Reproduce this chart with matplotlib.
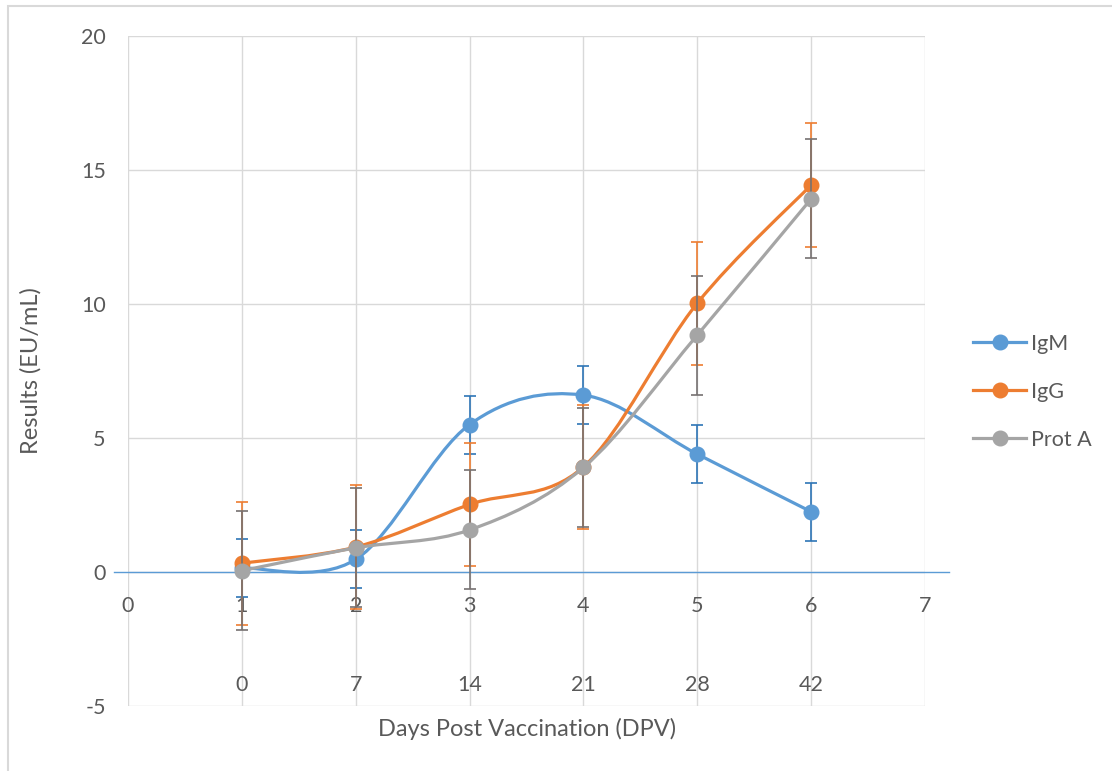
import numpy as np
import matplotlib
matplotlib.use("Agg")
import matplotlib.pyplot as plt
from matplotlib.path import Path
from matplotlib.patches import PathPatch, Rectangle
from matplotlib.lines import Line2D
from matplotlib.transforms import blended_transform_factory

# Données : moyennes et erreurs par point de prélèvement
points = [1, 2, 3, 4, 5, 6]
jours = ["0", "7", "14", "21", "28", "42"]

igm = [0.15, 0.47, 5.5, 6.6, 4.4, 2.25]
igg = [0.33, 0.93, 2.52, 3.92, 10.03, 14.44]
prot_a = [0.05, 0.9, 1.57, 3.9, 8.84, 13.92]

err_igm = [1.08, 1.08, 1.08, 1.08, 1.08, 1.08]
err_igg = [2.3, 2.3, 2.3, 2.3, 2.3, 2.3]
err_prot_a = [2.22, 2.22, 2.22, 2.22, 2.22, 2.22]

TEXTE = "#595959"
GRILLE = "#D9D9D9"
TAILLE = 15.5

plt.rcParams["font.family"] = ["Lato", "DejaVu Sans"]
plt.rcParams["axes.unicode_minus"] = False


def courbe_lissee(xs, ys):
    # courbe de Bézier passant par les points (lissage façon tableur)
    pts = np.column_stack([xs, ys]).astype(float)
    n = len(pts)
    verts = [pts[0]]
    codes = [Path.MOVETO]
    for i in range(n - 1):
        p0 = pts[max(i - 1, 0)]
        p1 = pts[i]
        p2 = pts[i + 1]
        p3 = pts[min(i + 2, n - 1)]
        verts += [p1 + (p2 - p0) / 6, p2 - (p3 - p1) / 6, p2]
        codes += [Path.CURVE4] * 3
    return Path(verts, codes)


fig = plt.figure(figsize=(11.12, 7.71), dpi=100)
ax = fig.add_axes([0.1151, 0.0843, 0.7167, 0.869])

ax.set_xlim(0, 7)
ax.set_ylim(-5, 20)
ax.set_xticks(range(8))
ax.set_yticks([-5, 0, 5, 10, 15, 20])
ax.grid(True, color=GRILLE, linewidth=1.0)
ax.set_axisbelow(True)
for s in ax.spines.values():
    s.set_visible(False)
ax.spines["bottom"].set_position(("data", 0))
ax.tick_params(axis="x", length=0, pad=17.5, labelsize=TAILLE, labelcolor=TEXTE)
ax.tick_params(axis="y", length=0, pad=16, labelsize=TAILLE, labelcolor=TEXTE)

# axe horizontal bleu à y = 0, qui déborde un peu de la zone de tracé
trans = blended_transform_factory(ax.transAxes, ax.transData)
ax.plot([-0.018, 1.03], [0, 0], color="#5B9BD5", linewidth=1.0,
        transform=trans, clip_on=False, zorder=2)

series = [
    ("IgM", igm, err_igm, "#5B9BD5", "#2E75B6"),
    ("IgG", igg, err_igg, "#ED7D31", "#ED7D31"),
    ("Prot A", prot_a, err_prot_a, "#A5A5A5", "#767171"),
]

handles = []
for k, (nom, vals, errs, couleur, couleur_err) in enumerate(series):
    z = 3 + k
    ax.errorbar(points, vals, yerr=errs, fmt="none", ecolor=couleur_err,
                elinewidth=1.2, capsize=4.3, capthick=1.2, zorder=z)
    ax.add_patch(PathPatch(courbe_lissee(points, vals), facecolor="none",
                           edgecolor=couleur, linewidth=2.3, zorder=z))
    ax.plot(points, vals, linestyle="none", marker="o", markersize=10.5,
            color=couleur, zorder=z)
    handles.append(Line2D([], [], color=couleur, linewidth=2.3,
                          marker="o", markersize=10.5, label=nom))

# libellés des jours post-vaccination
for x, j in zip(points, jours):
    ax.text(x, -4.2, j, ha="center", va="center", fontsize=TAILLE, color=TEXTE)

ax.set_ylabel("Results (EU/mL)", fontsize=17, color=TEXTE)
ax.yaxis.set_label_coords(-0.109, 0.5)
fig.text(0.474, 0.054, "Days Post Vaccination (DPV)", ha="center",
         va="center", fontsize=17, color=TEXTE)

fig.legend(handles=handles, loc="center left", bbox_to_anchor=(0.858, 0.492),
           frameon=False, fontsize=TAILLE, labelcolor=TEXTE, handlelength=2.45,
           labelspacing=1.3, handletextpad=0.2)

# cadre du graphique
fig.patches.append(Rectangle((0.0072, -0.02), 1.2, 0.9922 + 0.02,
                             transform=fig.transFigure, fill=False,
                             edgecolor=GRILLE, linewidth=1.5))

fig.savefig("out.png", dpi=100)
